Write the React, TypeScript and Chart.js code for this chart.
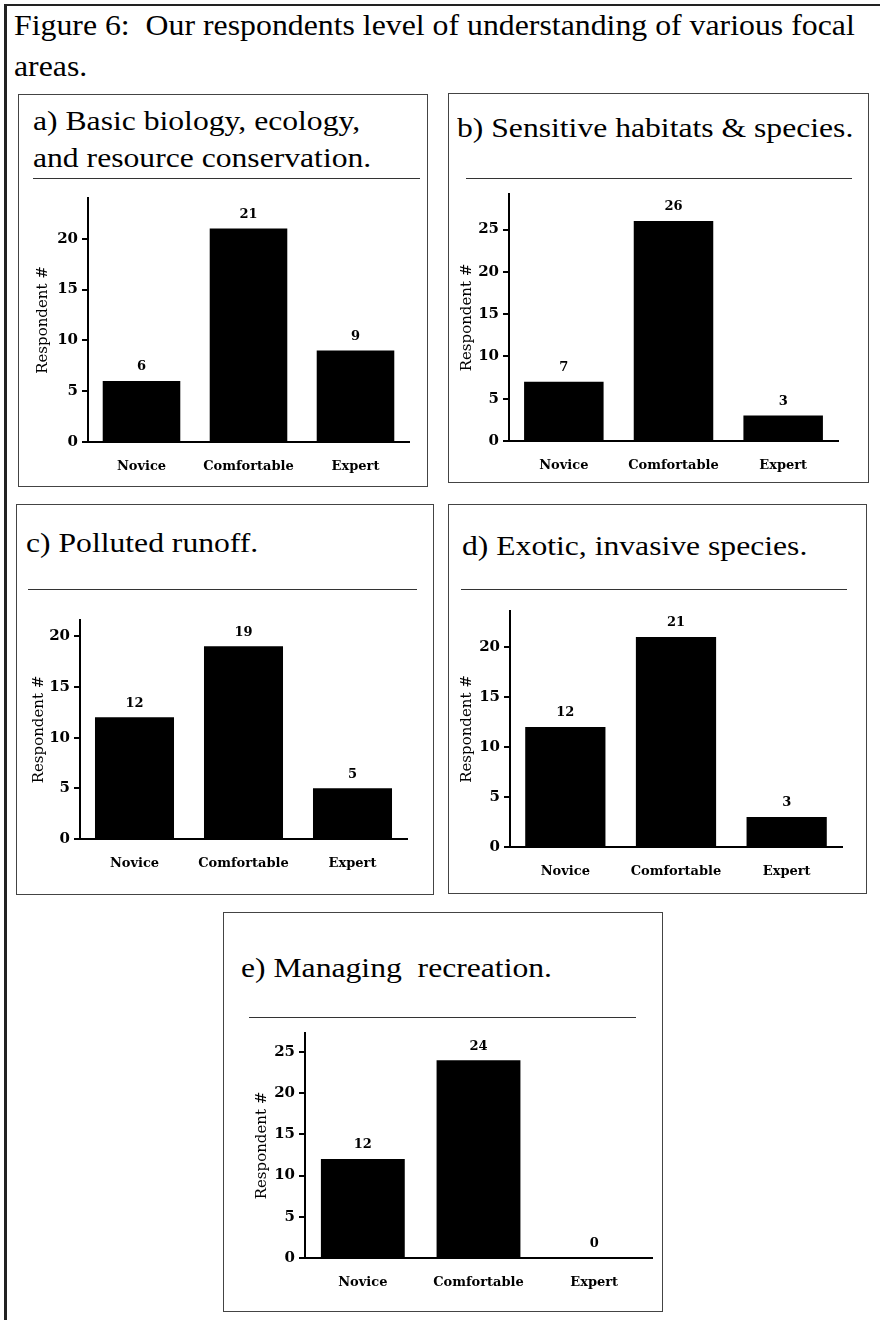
import React, { useEffect, useRef } from "react";
import { Chart, registerables } from "chart.js";

Chart.register(...registerables);

// ---------- data ----------
const categories = ["Novice", "Comfortable", "Expert"];
const valuesA = [6, 21, 9];
const valuesB = [7, 26, 3];
const valuesC = [12, 19, 5];
const valuesD = [12, 21, 3];
const valuesE = [12, 24, 0];
const axisMaxes = [24, 29.2, 21.6, 23.6, 27.3];
const yTickStep = 5;
const yAxisTitle = "Respondent #";
const captionLines = [
  "Figure 6:  Our respondents level of understanding of various focal",
  "areas.",
];
const titleA = ["a) Basic biology, ecology,", "and resource conservation."];
const titleB = ["b) Sensitive habitats & species."];
const titleC = ["c) Polluted runoff."];
const titleD = ["d) Exotic, invasive species."];
const titleE = ["e) Managing  recreation."];

// ---------- layout (page coordinates) ----------
type Box = { x: number; y: number; w: number; h: number };
type Area = { l: number; r: number; t: number; b: number };
type PanelLayout = {
  box: Box;
  titleX: number;
  titleTop: number;
  sep: { x1: number; x2: number; y: number };
  area: Area;
  yTitleX: number;
};

const layouts: PanelLayout[] = [
  { box: { x: 18, y: 94, w: 410, h: 393 }, titleX: 33, titleTop: 102, sep: { x1: 33, x2: 420, y: 178 }, area: { l: 88, r: 409, t: 198, b: 442 }, yTitleX: 43 },
  { box: { x: 448, y: 93, w: 421, h: 390 }, titleX: 457, titleTop: 109, sep: { x1: 466, x2: 852, y: 178 }, area: { l: 509, r: 838, t: 192, b: 441 }, yTitleX: 467 },
  { box: { x: 16, y: 504, w: 418, h: 391 }, titleX: 26, titleTop: 524, sep: { x1: 28, x2: 417, y: 589 }, area: { l: 80, r: 407, t: 620, b: 839 }, yTitleX: 39 },
  { box: { x: 448, y: 504, w: 419, h: 390 }, titleX: 462, titleTop: 527, sep: { x1: 461, x2: 847, y: 589 }, area: { l: 510, r: 842, t: 611, b: 847 }, yTitleX: 467 },
  { box: { x: 223, y: 912, w: 440, h: 400 }, titleX: 241, titleTop: 949, sep: { x1: 249, x2: 636, y: 1017 }, area: { l: 305, r: 652, t: 1032, b: 1258 }, yTitleX: 262 },
];

const serifTitle = '"Liberation Serif", "Times New Roman", serif';
const chartFont = "DejaVu Serif";

const valueLabelPlugin = {
  id: "valueLabels",
  afterDatasetsDraw(chart: any) {
    const ctx = chart.ctx;
    const meta = chart.getDatasetMeta(0);
    const data = chart.data.datasets[0].data;
    ctx.save();
    ctx.font = `bold 13px "${chartFont}"`;
    ctx.fillStyle = "#000";
    ctx.textAlign = "center";
    ctx.textBaseline = "middle";
    meta.data.forEach((bar: any, i: number) => {
      ctx.fillText(String(data[i]), bar.x, bar.y - 14);
    });
    ctx.restore();
  },
};

function BarPanel({ values, max, layout }: { values: number[]; max: number; layout: PanelLayout }) {
  const ref = useRef<HTMLCanvasElement | null>(null);
  const { box, area } = layout;
  const cx = box.x + 1;
  const cy = layout.sep.y + 3;
  const cw = box.w - 2;
  const ch = box.y + box.h - 2 - cy;

  useEffect(() => {
    if (!ref.current) return;
    const titleLH = 15 * 1.2;
    const chart = new Chart(ref.current, {
      type: "bar",
      data: {
        labels: categories,
        datasets: [
          {
            data: values,
            backgroundColor: "#000",
            borderWidth: 0,
            barPercentage: 0.725,
            categoryPercentage: 1,
          },
        ],
      },
      plugins: [valueLabelPlugin],
      options: {
        animation: false,
        responsive: false,
        maintainAspectRatio: false,
        layout: {
          padding: { left: 0, top: area.t - cy, right: cx + cw - area.r, bottom: 0 },
        },
        plugins: { legend: { display: false }, tooltip: { enabled: false } },
        scales: {
          x: {
            type: "category",
            offset: true,
            z: 1,
            grid: { display: false, drawTicks: false },
            border: { display: true, color: "#000", width: 2 },
            ticks: {
              color: "#000",
              font: { family: chartFont, size: 13, weight: "bold" },
              padding: 17,
              maxRotation: 0,
              autoSkip: false,
            },
            afterFit: (s: any) => {
              s.height = cy + ch - area.b;
            },
          },
          y: {
            min: 0,
            max,
            grid: { drawOnChartArea: false, drawTicks: true, tickLength: 6, color: "#000", lineWidth: 2 },
            border: { display: true, color: "#000", width: 2 },
            ticks: {
              stepSize: yTickStep,
              includeBounds: false,
              color: "#000",
              padding: 4,
              font: { family: chartFont, size: 15, weight: "bold" },
            },
            title: {
              display: true,
              text: yAxisTitle,
              color: "#000",
              font: { family: chartFont, size: 15 },
              padding: { top: layout.yTitleX - cx - titleLH / 2, bottom: 0 },
            },
            afterFit: (s: any) => {
              s.width = area.l - cx;
            },
          },
        },
      } as any,
    });
    return () => chart.destroy();
  }, [values, max, layout]);

  return (
    <canvas
      ref={ref}
      width={cw}
      height={ch}
      style={{ position: "absolute", left: cx, top: cy, width: cw, height: ch }}
    />
  );
}

function Panel({ title, values, max, layout }: { title: string[]; values: number[]; max: number; layout: PanelLayout }) {
  const { box, sep } = layout;
  return (
    <>
      <div
        style={{
          position: "absolute",
          left: box.x,
          top: box.y,
          width: box.w,
          height: box.h,
          boxSizing: "border-box",
          border: "1px solid #444",
          background: "#fff",
        }}
      />
      <div
        style={{
          position: "absolute",
          left: layout.titleX,
          top: layout.titleTop,
          fontFamily: serifTitle,
          fontSize: 28,
          lineHeight: "37px",
          color: "#000",
          whiteSpace: "pre",
          transform: "scaleX(1.13)",
          transformOrigin: "left top",
        }}
      >
        {title.map((t, i) => (
          <div key={i}>{t}</div>
        ))}
      </div>
      <div
        style={{
          position: "absolute",
          left: sep.x1,
          top: sep.y,
          width: sep.x2 - sep.x1,
          height: 1,
          background: "#333",
        }}
      />
      <BarPanel values={values} max={max} layout={layout} />
    </>
  );
}

export default function App() {
  const panels = [
    { title: titleA, values: valuesA },
    { title: titleB, values: valuesB },
    { title: titleC, values: valuesC },
    { title: titleD, values: valuesD },
    { title: titleE, values: valuesE },
  ];
  return (
    <div
      style={{
        position: "absolute",
        left: 0,
        top: 0,
        width: 880,
        height: 1320,
        overflow: "hidden",
        background: "#fff",
      }}
    >
      <div
        style={{
          position: "absolute",
          left: 4,
          top: 4,
          width: 876,
          height: 1316,
          boxSizing: "border-box",
          borderTop: "2px solid #222",
          borderLeft: "3px solid #222",
        }}
      />
      <div
        style={{
          position: "absolute",
          left: 14,
          top: 4,
          fontFamily: serifTitle,
          fontSize: 30,
          lineHeight: "41px",
          color: "#000",
          whiteSpace: "pre",
          transform: "scaleX(1.06)",
          transformOrigin: "left top",
        }}
      >
        {captionLines.map((t, i) => (
          <div key={i}>{t}</div>
        ))}
      </div>
      {panels.map((p, i) => (
        <Panel key={i} title={p.title} values={p.values} max={axisMaxes[i]} layout={layouts[i]} />
      ))}
    </div>
  );
}
